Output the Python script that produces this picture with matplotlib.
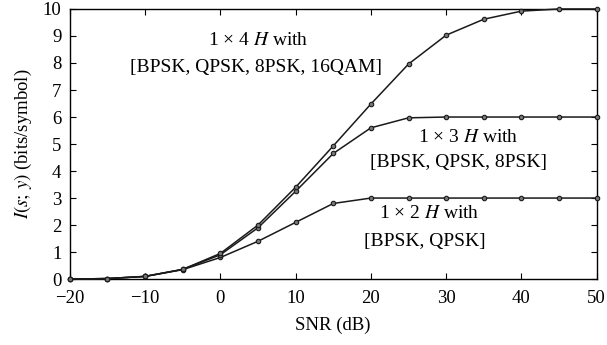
import numpy as np
import matplotlib.pyplot as plt

plt.rcParams['font.family'] = ['Liberation Serif', 'DejaVu Serif']
plt.rcParams['mathtext.fontset'] = 'stix'

snr = [-20, -15, -10, -5, 0, 5, 10, 15, 20, 25, 30, 35, 40, 45, 50]
mi_1x2 = [0.0, 0.02, 0.1, 0.35, 0.8, 1.4, 2.1, 2.8, 3.0, 3.0, 3.0, 3.0, 3.0, 3.0, 3.0]
mi_1x3 = [0.0, 0.02, 0.1, 0.36, 0.9, 1.9, 3.25, 4.65, 5.6, 5.97, 6.0, 6.0, 6.0, 6.0, 6.0]
mi_1x4 = [0.0, 0.02, 0.1, 0.36, 0.95, 2.0, 3.4, 4.93, 6.48, 7.96, 9.03, 9.62, 9.92, 10.0, 10.0]

fig = plt.figure(figsize=(6.07, 3.45), dpi=100)
ax = fig.add_axes([0.115, 0.191, 0.868, 0.783])

for mi in [mi_1x2, mi_1x3, mi_1x4]:
    ax.plot(snr, mi, color='#1a1a1a', lw=1.1, marker='o', ms=3.2,
            mfc='#777777', mec='#1a1a1a', mew=0.8, clip_on=False, zorder=3)

ax.set_xlim(-20, 50)
ax.set_ylim(0, 10)
ax.set_xticks(np.arange(-20, 51, 10))
ax.set_yticks(np.arange(0, 11, 1))
ax.set_xticklabels(['\u221220', '\u221210', '0', '10', '20', '30', '40', '50'])
ax.tick_params(direction='in', top=True, right=True, labelsize=13.5, length=4, width=0.8)
ax.tick_params(axis='x', pad=8)
ax.tick_params(axis='y', pad=6)
for s in ax.spines.values():
    s.set_linewidth(1.0)

ax.set_xlabel('SNR (dB)', fontsize=13.5, labelpad=7)
ax.set_ylabel('$I(s;\\,y)$ (bits/symbol)', fontsize=13.5, labelpad=6)

fs = 14
ax.text(5.0, 8.85, '1 \u00d7 4 $H$ with', ha='center', va='center', fontsize=fs)
ax.text(4.8, 7.82, '[BPSK, QPSK, 8PSK, 16QAM]', ha='center', va='center', fontsize=fs)
ax.text(32.9, 5.26, '1 \u00d7 3 $H$ with', ha='center', va='center', fontsize=fs)
ax.text(31.7, 4.3, '[BPSK, QPSK, 8PSK]', ha='center', va='center', fontsize=fs)
ax.text(27.8, 2.44, '1 \u00d7 2 $H$ with', ha='center', va='center', fontsize=fs)
ax.text(27.1, 1.41, '[BPSK, QPSK]', ha='center', va='center', fontsize=fs)

fig.savefig('out.png', dpi=100)
